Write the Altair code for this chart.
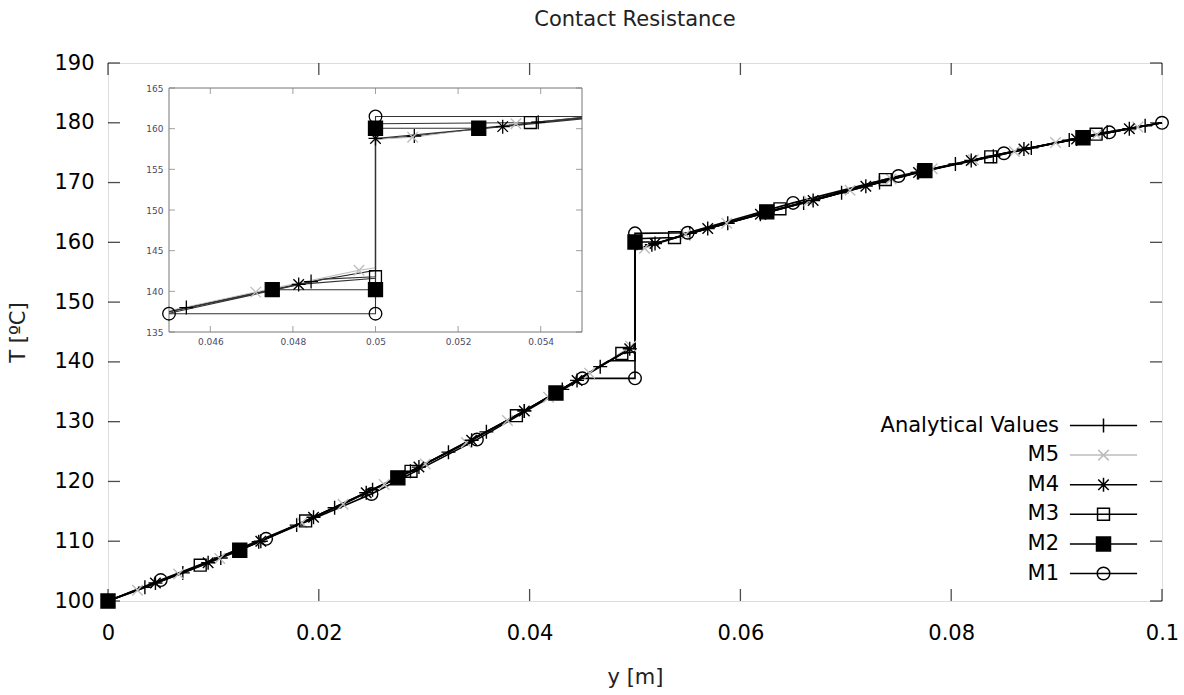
import altair as alt
import pandas as pd

FONT = "DejaVu Sans"

# ---------------- series meta ----------------
series_names = ["Analytical Values", "M5", "M4", "M3", "M2", "M1"]
line_colors = ["#000000", "#bdbdbd", "#000000", "#000000", "#000000", "#000000"]
inset_line_colors = ["#222222", "#bdbdbd", "#333333", "#333333", "#333333", "#333333"]
fill_colors = ["transparent", "transparent", "transparent", "transparent", "#000000", "transparent"]

# ---------------- main plot data (y [m], T [C], marker flag) ----------------
an_y = [0, 0.0035, 0.0071, 0.0107, 0.0143, 0.0179, 0.0215, 0.0251, 0.0287, 0.0323, 0.0359, 0.0395, 0.0431, 0.0467,
        0.05, 0.05, 0.0516, 0.0552, 0.0588, 0.0624, 0.066, 0.0696, 0.0732, 0.0768, 0.0804, 0.084, 0.0876, 0.0912,
        0.0948, 0.0984, 0.1]
an_T = [100, 102.3, 104.7, 107.2, 109.9, 112.7, 115.6, 118.6, 121.7, 124.9, 128.3, 131.8, 135.4, 139.2,
        142.6, 158.8, 159.6, 161.5, 163.2, 165.0, 166.6, 168.3, 170.0, 171.7, 173.1, 174.4, 175.8, 177.1,
        178.4, 179.5, 180.0]
an_mk = [1] * 14 + [0, 0] + [1] * 14 + [0]

m5_y = [0, 0.0028, 0.0067, 0.0106, 0.0145, 0.0184, 0.0223, 0.0262, 0.0301, 0.034, 0.0379, 0.0418, 0.0457, 0.0496,
        0.05, 0.05, 0.0509, 0.0548, 0.0587, 0.0626, 0.0665, 0.0704, 0.0743, 0.0782, 0.0821, 0.086, 0.0899, 0.0938,
        0.0977, 0.1]
m5_T = [100, 101.8, 104.5, 107.1, 110.0, 113.1, 116.2, 119.5, 122.9, 126.5, 130.2, 134.1, 138.1, 142.6,
        142.9, 158.7, 159.0, 161.3, 163.2, 165.0, 166.9, 168.7, 170.6, 172.3, 173.8, 175.2, 176.7, 178.0,
        179.3, 180.0]
m5_mk = [1] * 14 + [0, 0] + [1] * 13 + [0]

m4_y = [0, 0.0045, 0.0095, 0.0145, 0.0195, 0.0245, 0.0295, 0.0345, 0.0395, 0.0445, 0.0495, 0.05, 0.05,
        0.0519, 0.0569, 0.0619, 0.0669, 0.0719, 0.0769, 0.0819, 0.0869, 0.0919, 0.0969, 0.1]
m4_T = [100, 103.0, 106.4, 110.0, 114.0, 118.1, 122.4, 126.9, 131.8, 136.9, 142.2, 142.5, 158.8,
        159.8, 162.3, 164.7, 167.0, 169.4, 171.7, 173.7, 175.6, 177.3, 179.0, 180.0]
m4_mk = [1] * 11 + [0, 0] + [1] * 10 + [0]

m3_y = [0, 0.00875, 0.01875, 0.02875, 0.03875, 0.04875, 0.05, 0.05, 0.05375, 0.06375, 0.07375, 0.08375, 0.09375, 0.1]
m3_T = [100, 106.0, 113.4, 121.7, 131.0, 141.4, 141.7, 160.6, 160.8, 165.6, 170.5, 174.3, 178.1, 180.0]
m3_mk = [1] * 6 + [0, 0] + [1] * 5 + [0]

m2_y = [0, 0.0025, 0.0075, 0.0125, 0.0175, 0.0225, 0.0275, 0.0325, 0.0375, 0.0425, 0.0475, 0.05, 0.05,
        0.0525, 0.0575, 0.0625, 0.0675, 0.0725, 0.0775, 0.0825, 0.0875, 0.0925, 0.0975, 0.1]
m2_T = [100, 101.6, 105.0, 108.5, 112.4, 116.4, 120.6, 125.1, 129.8, 134.8, 140.2, 140.2, 160.05,
        160.05, 162.6, 165.1, 167.3, 169.7, 172.0, 173.9, 175.8, 177.5, 179.2, 180.0]
m2_mk = [1, 0, 0, 1, 0, 0, 1, 0, 0, 1, 0, 0, 1, 0, 0, 1, 0, 0, 1, 0, 0, 1, 0, 0]

m1_y = [0, 0.005, 0.015, 0.025, 0.035, 0.045, 0.05, 0.05, 0.055, 0.065, 0.075, 0.085, 0.095, 0.1]
m1_T = [100, 103.5, 110.4, 117.9, 127.0, 137.25, 137.25, 161.5, 161.6, 166.6, 171.1, 174.9, 178.4, 180.0]
m1_mk = [1] * 14

# ---------------- inset data (zoom on the contact) ----------------
ia_y = [0.045, 0.04542, 0.04844, 0.05, 0.05, 0.05094, 0.05394, 0.055]
ia_T = [137.55, 138.0, 141.2, 142.6, 158.7, 159.1, 160.8, 161.4]
ia_mk = [0, 1, 1, 0, 0, 1, 1, 0]
i5_y = [0.045, 0.0471, 0.0496, 0.05, 0.05, 0.0509, 0.0534, 0.055]
i5_T = [137.6, 139.9, 142.6, 142.9, 158.7, 158.95, 160.6, 161.3]
i5_mk = [0, 1, 1, 0, 0, 1, 1, 0]
i4_y = [0.045, 0.04814, 0.05, 0.05, 0.05308, 0.055]
i4_T = [137.5, 140.85, 141.6, 158.8, 160.25, 161.2]
i4_mk = [0, 1, 0, 1, 1, 0]
i3_y = [0.045, 0.04875, 0.05, 0.05, 0.05375, 0.055]
i3_T = [137.3, 141.5, 141.8, 160.6, 160.75, 161.3]
i3_mk = [0, 0, 1, 0, 1, 0]
i2_y = [0.045, 0.0475, 0.05, 0.05, 0.0525, 0.055]
i2_T = [137.5, 140.2, 140.2, 160.05, 160.05, 161.3]
i2_mk = [0, 1, 1, 1, 1, 0]
i1_y = [0.045, 0.05, 0.05, 0.055]
i1_T = [137.25, 137.25, 161.5, 161.5]
i1_mk = [1, 1, 1, 0]

# ---------------- axes ----------------
x_domain = [0, 0.1]
y_domain = [100, 190]
x_ticks = [0, 0.02, 0.04, 0.06, 0.08, 0.1]
y_ticks = [100, 110, 120, 130, 140, 150, 160, 170, 180, 190]
ix_domain = [0.045, 0.055]
iy_domain = [135, 165]
ix_ticks = [0.046, 0.048, 0.05, 0.052, 0.054]
iy_ticks = [135, 140, 145, 150, 155, 160, 165]

W, H = 1054, 538
FS = 21

# ---------------- marker shapes ----------------
mk_plus = "M-1,0H1M0,-1V1"
mk_x = "M-0.75,-0.75L0.75,0.75M-0.75,0.75L0.75,-0.75"
mk_star = "M-1,0H1M0,-1V1M-0.75,-0.75L0.75,0.75M-0.75,0.75L0.75,-0.75"
mk_osq = "M-0.85,-0.85H0.85V0.85H-0.85Z"
mk_fsq = "M-1,-1H1V1H-1Z"
mk_circ = "M-0.9,0A0.9,0.9 0 1,1 0.9,0A0.9,0.9 0 1,1 -0.9,0Z"
point_shapes = [mk_plus, mk_x, mk_star, mk_osq, mk_fsq, mk_circ]
seg = "M-4.8,0H4.8"
legend_shapes = [seg + s for s in point_shapes]


def build(ys_list, ts_list, mk_list):
    rows = []
    for name, ys, ts, mks in zip(series_names, ys_list, ts_list, mk_list):
        for i, (a, b, m) in enumerate(zip(ys, ts, mks)):
            rows.append({"series": name, "y": a, "T": b, "mk": m, "ord": i})
    return pd.DataFrame(rows)


main_df = build([an_y, m5_y, m4_y, m3_y, m2_y, m1_y],
                [an_T, m5_T, m4_T, m3_T, m2_T, m1_T],
                [an_mk, m5_mk, m4_mk, m3_mk, m2_mk, m1_mk])
inset_df = build([ia_y, i5_y, i4_y, i3_y, i2_y, i1_y],
                 [ia_T, i5_T, i4_T, i3_T, i2_T, i1_T],
                 [ia_mk, i5_mk, i4_mk, i3_mk, i2_mk, i1_mk])

# ---------------- main encodings ----------------
sx = alt.Scale(domain=x_domain, nice=False, zero=False)
sy = alt.Scale(domain=y_domain, nice=False, zero=False)
ax_x = alt.Axis(values=x_ticks, format="~g", ticks=False, domain=False, grid=False,
                labelFontSize=FS, labelFont=FONT, labelColor="#000", labelPadding=21,
                labelFlush=False, labelOverlap=False,
                titleFontSize=FS, titleFont=FONT, titleFontWeight="normal", titleColor="#222",
                titleX=W / 2, titleY=76, titleBaseline="middle", titleAlign="center")
ax_y = alt.Axis(values=y_ticks, ticks=False, domain=False, grid=False,
                labelFontSize=FS, labelFont=FONT, labelColor="#000", labelPadding=14,
                labelFlush=False, labelOverlap=False,
                titleFontSize=FS, titleFont=FONT, titleFontWeight="normal", titleColor="#222",
                titleX=-90, titleY=H / 2, titleBaseline="middle", titleAlign="center")
X = alt.X("y:Q", scale=sx, axis=ax_x, title="y [m]")
Y = alt.Y("T:Q", scale=sy, axis=ax_y, title="T [ºC]")

stroke_main = alt.Stroke("series:N", scale=alt.Scale(domain=series_names, range=line_colors), legend=None)
fill_main = alt.Fill("series:N", scale=alt.Scale(domain=series_names, range=fill_colors), legend=None)
shape_main = alt.Shape("series:N", scale=alt.Scale(domain=series_names, range=point_shapes), legend=None)

base = alt.Chart(main_df)
lines = base.mark_line(strokeWidth=1.6).encode(
    x=X, y=Y, detail="series:N", stroke=stroke_main, order="ord:Q")
points = base.transform_filter("datum.mk == 1").mark_point(
    size=196, strokeWidth=1.4, opacity=1, filled=False).encode(
    x=X, y=Y, shape=shape_main, fill=fill_main, stroke=stroke_main)

legend = alt.Legend(orient="none", legendX=985, legendY=352, title=None, padding=0,
                    labelFontSize=FS, labelFont=FONT, labelColor="#000", labelAlign="right",
                    labelOffset={"expr": "-55"}, labelLimit=0, symbolSize=196, symbolStrokeWidth=1.5,
                    rowPadding=7.6)
legend_layer = base.transform_filter("datum.T < 0").mark_point(
    size=196, strokeWidth=1.5, opacity=1, filled=False).encode(
    shape=alt.Shape("series:N", scale=alt.Scale(domain=series_names, range=legend_shapes), legend=legend),
    fill=alt.Fill("series:N", scale=alt.Scale(domain=series_names, range=fill_colors), legend=legend),
    stroke=alt.Stroke("series:N", scale=alt.Scale(domain=series_names, range=line_colors), legend=legend))

tick_bottom = alt.Chart(pd.DataFrame({"y": x_ticks, "T": [y_domain[0]] * len(x_ticks)})).mark_tick(
    orient="vertical", size=12, thickness=1.3, yOffset=-6, color="#000").encode(x=X, y=Y)
tick_top = alt.Chart(pd.DataFrame({"y": x_ticks, "T": [y_domain[1]] * len(x_ticks)})).mark_tick(
    orient="vertical", size=12, thickness=1.3, yOffset=6, color="#000").encode(x=X, y=Y)
tick_left = alt.Chart(pd.DataFrame({"y": [x_domain[0]] * len(y_ticks), "T": y_ticks})).mark_tick(
    orient="horizontal", size=12, thickness=1.3, xOffset=6, color="#000").encode(x=X, y=Y)
tick_right = alt.Chart(pd.DataFrame({"y": [x_domain[1]] * len(y_ticks), "T": y_ticks})).mark_tick(
    orient="horizontal", size=12, thickness=1.3, xOffset=-6, color="#000").encode(x=X, y=Y)

main = alt.layer(tick_bottom, tick_top, tick_left, tick_right, lines, points, legend_layer).resolve_scale(
    shape="independent", fill="independent", stroke="independent")

# ---------------- inset ----------------
isx = alt.Scale(domain=ix_domain, range=[61, 474], nice=False, zero=False)
isy = alt.Scale(domain=iy_domain, range=[269, 25], nice=False, zero=False)
iax_x = alt.Axis(orient="bottom", offset=-269, values=ix_ticks, format="~g", ticks=False, domain=False,
                 grid=False, labelFontSize=9, labelFont=FONT, labelColor="#4a4a66", labelPadding=5,
                 labelFlush=False, labelOverlap=False)
iax_y = alt.Axis(orient="left", offset=-61, values=iy_ticks, ticks=False, domain=False, grid=False,
                 labelFontSize=9, labelFont=FONT, labelColor="#4a4a66", labelPadding=6,
                 labelFlush=False, labelOverlap=False)
IX = alt.X("y:Q", scale=isx, axis=iax_x, title=None)
IY = alt.Y("T:Q", scale=isy, axis=iax_y, title=None)

frame_df = pd.DataFrame({"y": [ix_domain[0]], "y2": [ix_domain[1]], "T": [iy_domain[0]], "T2": [iy_domain[1]]})
inset_frame = alt.Chart(frame_df).mark_rect(fill="white", stroke="#777", strokeWidth=1).encode(
    x=IX, x2="y2:Q", y=IY, y2="T2:Q")

ibase = alt.Chart(inset_df)
ilines = ibase.mark_line(strokeWidth=1.1).encode(
    x=IX, y=IY, detail="series:N", order="ord:Q",
    stroke=alt.Stroke("series:N", scale=alt.Scale(domain=series_names, range=inset_line_colors), legend=None))
ipoints = ibase.transform_filter("datum.mk == 1").mark_point(
    size=196, strokeWidth=1.3, opacity=1, filled=False).encode(
    x=IX, y=IY,
    shape=alt.Shape("series:N", scale=alt.Scale(domain=series_names, range=point_shapes), legend=None),
    fill=alt.Fill("series:N", scale=alt.Scale(domain=series_names, range=fill_colors), legend=None),
    stroke=alt.Stroke("series:N", scale=alt.Scale(domain=series_names, range=line_colors), legend=None))

itick_b = alt.Chart(pd.DataFrame({"y": ix_ticks, "T": [iy_domain[0]] * len(ix_ticks)})).mark_tick(
    orient="vertical", size=6, thickness=1, yOffset=-3, color="#777").encode(x=IX, y=IY)
itick_t = alt.Chart(pd.DataFrame({"y": ix_ticks, "T": [iy_domain[1]] * len(ix_ticks)})).mark_tick(
    orient="vertical", size=6, thickness=1, yOffset=3, color="#777").encode(x=IX, y=IY)
itick_l = alt.Chart(pd.DataFrame({"y": [ix_domain[0]] * len(iy_ticks), "T": iy_ticks})).mark_tick(
    orient="horizontal", size=6, thickness=1, xOffset=3, color="#777").encode(x=IX, y=IY)
itick_r = alt.Chart(pd.DataFrame({"y": [ix_domain[1]] * len(iy_ticks), "T": iy_ticks})).mark_tick(
    orient="horizontal", size=6, thickness=1, xOffset=-3, color="#777").encode(x=IX, y=IY)

inset = alt.layer(inset_frame, itick_b, itick_t, itick_l, itick_r, ilines, ipoints).resolve_scale(
    shape="independent", fill="independent", stroke="independent")

chart = alt.layer(main, inset).resolve_scale(
    x="independent", y="independent", shape="independent", fill="independent", stroke="independent"
).properties(
    width=W, height=H,
    padding={"left": 108, "top": 63, "right": 22, "bottom": 94},
    autosize=alt.AutoSizeParams(type="none"),
    title=alt.TitleParams("Contact Resistance", fontSize=FS, font=FONT, fontWeight="normal",
                          color="#222", anchor="middle", offset=22),
).configure_view(stroke="#000", strokeWidth=1.5).configure(background="white")

chart.save("out.html", embed_options={"renderer": "svg", "actions": False})
